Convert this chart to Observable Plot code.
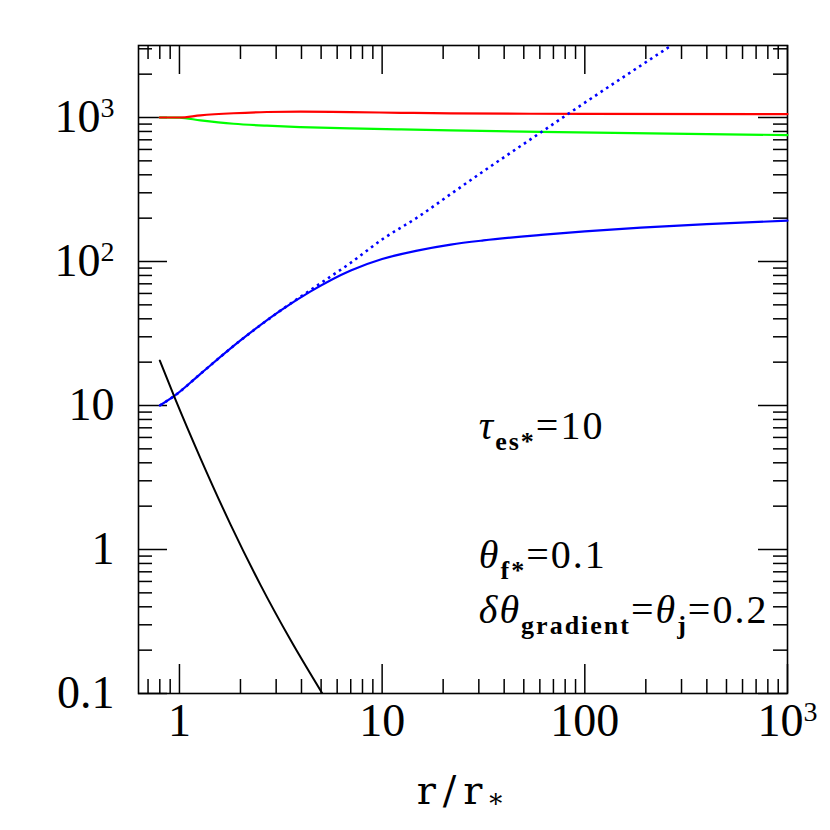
<!DOCTYPE html>
<html><head><meta charset="utf-8">
<script src="https://cdn.jsdelivr.net/npm/d3@7"></script>
<script src="https://cdn.jsdelivr.net/npm/@observablehq/plot@0.6"></script>
<style>body{margin:0;background:#fff}</style>
</head><body><div id="chart"></div>
<script>
// ---- data ----
const rRed   = [0.8, 1.0, 1.27, 1.85, 2.7, 3.96, 7, 12.4, 21.8, 100, 1000];
const vRed   = [1000, 1000, 1035, 1070, 1092, 1098, 1090, 1078, 1068, 1060, 1056];
const rGreen = [0.8, 1.0, 1.27, 1.85, 2.7, 3.96, 7, 12.4, 21.8, 60.6, 211, 1000];
const vGreen = [1000, 997, 955, 905, 877, 858, 840, 826, 814, 795, 775, 755];
const rBlue  = [0.8, 0.955, 1.27, 2.0, 3.15, 4.44, 7.0, 10, 14.9, 21.8, 31.6, 60.8, 100, 189, 400, 1000];
const vBlue  = [10, 11.8, 16.6, 28.3, 45.6, 62, 86.6, 104, 119, 131, 140, 153, 162, 172, 182, 192];
const rDot   = [0.8, 0.955, 1.27, 2.0, 3.15, 4.44, 7.0, 10.2, 14.9, 21.8, 31.9, 60.6, 82.4, 267];
const vDot   = [10, 11.8, 16.6, 28.3, 45.6, 63.5, 98, 145, 202, 294, 427, 787, 1055, 3162];
const rBlack = [0.8, 0.955, 1.27, 1.79, 2.51, 3.54, 5.07];
const vBlack = [20.5, 11.03, 4.30, 1.484, 0.568, 0.234, 0.1];

const xMajor = [1, 10, 100, 1000];
const xMajorLabels = ["1", "10", "100", "10^{3}"];
const xMinor = [0.7, 0.8, 0.9, 2, 3, 4, 5, 6, 7, 8, 9, 20, 30, 40, 50, 60, 70, 80, 90, 200, 300, 400, 500, 600, 700, 800, 900];
const yMajor = [0.1, 1, 10, 100, 1000];
const yMajorLabels = ["0.1", "1", "10", "10^{2}", "10^{3}"];
const yMinor = [0.2, 0.3, 0.4, 0.5, 0.6, 0.7, 0.8, 0.9, 2, 3, 4, 5, 6, 7, 8, 9, 20, 30, 40, 50, 60, 70, 80, 90, 200, 300, 400, 500, 600, 700, 800, 900, 2000, 3000];

const annotX = [30, 30, 30];
const annotY = [7.15, 0.908, 0.377];
const annotText = ["τ_{es*}=10", "θ_{f*}=0.1", "δθ_{gradient}=θ_{j}=0.2"];
const xLabel = "r/r_{*}";

// ---- layout ----
const W = 830, H = 830, mL = 138, mR = 43, mT = 45, mB = 137;
const innerW = W - mL - mR, innerH = H - mT - mB;
const major = 29, minor = 14;
const ser = (rs, vs) => rs.map((r, i) => ({r, v: vs[i]}));
const tickStyle = {stroke: "black", strokeWidth: 1.5};

const svg = Plot.plot({
  width: W, height: H,
  marginLeft: mL, marginRight: mR, marginTop: mT, marginBottom: mB,
  x: {type: "log", domain: [0.628, 1000], axis: null},
  y: {type: "log", domain: [0.1, 3162.3], axis: null},
  style: {background: "white", overflow: "visible"},
  marks: [
    // inward ticks on all four sides
    Plot.tickX(xMinor, {x: d => d, insetTop: innerH - minor, ...tickStyle}),
    Plot.tickX(xMajor, {x: d => d, insetTop: innerH - major, ...tickStyle}),
    Plot.tickX(xMinor, {x: d => d, insetBottom: innerH - minor, ...tickStyle}),
    Plot.tickX(xMajor, {x: d => d, insetBottom: innerH - major, ...tickStyle}),
    Plot.tickY(yMinor, {y: d => d, insetRight: innerW - minor, ...tickStyle}),
    Plot.tickY(yMajor, {y: d => d, insetRight: innerW - major, ...tickStyle}),
    Plot.tickY(yMinor, {y: d => d, insetLeft: innerW - minor, ...tickStyle}),
    Plot.tickY(yMajor, {y: d => d, insetLeft: innerW - major, ...tickStyle}),
    Plot.frame({stroke: "black", strokeWidth: 1.6}),
    // curves
    Plot.line(ser(rGreen, vGreen), {x: "r", y: "v", stroke: "#00ff00", strokeWidth: 2.2, curve: "monotone-x"}),
    Plot.line(ser(rRed, vRed), {x: "r", y: "v", stroke: "#ff0000", strokeWidth: 2.2, curve: "monotone-x"}),
    Plot.line(ser(rDot, vDot), {x: "r", y: "v", stroke: "#0000ff", strokeWidth: 2.6, strokeDasharray: "2.6,4", strokeLinecap: "butt", curve: "monotone-x", clip: true}),
    Plot.line(ser(rBlue, vBlue), {x: "r", y: "v", stroke: "#0000ff", strokeWidth: 2.2, curve: "monotone-x"}),
    Plot.line(ser(rBlack, vBlack), {x: "r", y: "v", stroke: "black", strokeWidth: 2, curve: "monotone-x", clip: true}),
    // tick labels
    Plot.text(xMajor, {x: d => d, text: (d, i) => xMajorLabels[i], frameAnchor: "bottom", dy: 42,
      fontSize: 46, fontFamily: "Liberation Serif", fill: "black"}),
    Plot.text(yMajor, {y: d => d, text: (d, i) => yMajorLabels[i], frameAnchor: "left", dx: -24, textAnchor: "end",
      fontSize: 46, fontFamily: "Liberation Serif", fill: "black"}),
    // axis label
    Plot.text([xLabel], {text: d => d, frameAnchor: "bottom", dy: 110, fontSize: 40, fontFamily: "DejaVu Serif", fill: "black"}),
    // annotations
    Plot.text(annotText, {x: (d, i) => annotX[i], y: (d, i) => annotY[i], text: d => d, textAnchor: "start",
      fontSize: 40, fontFamily: "Liberation Serif", fill: "black"})
  ]
});
document.getElementById("chart").appendChild(svg);

// ---- rich text: _{..} subscripts, ^{..} superscripts, italic Greek ----
function richify(node, str, o) {
  const sel = d3.select(node);
  sel.text(null);
  const re = /_\{([^}]*)\}|\^\{([^}]*)\}|([\u0370-\u03FF])|([^_^\u0370-\u03FF]+)/g;
  let m, shift = 0;
  while ((m = re.exec(str))) {
    const ts = sel.append("tspan");
    let target = 0;
    if (m[1] !== undefined) { target = o.sub; ts.text(m[1]).attr("font-size", o.subSize).attr("font-weight", o.subWeight || "normal"); }
    else if (m[2] !== undefined) { target = -o.sup; ts.text(m[2]).attr("font-size", o.supSize); }
    else if (m[3]) { ts.text(m[3]).attr("font-style", "italic"); }
    else ts.text(m[4]);
    if (target !== shift) { ts.attr("dy", target - shift); shift = target; }
  }
}
d3.select(svg).selectAll("text").each(function () {
  const t = this.textContent;
  if (annotText.includes(t)) {
    this.style.letterSpacing = "2px";
    richify(this, t, {sub: 11, subSize: 26, subWeight: "bold"});
  } else if (t === xLabel) {
    this.style.letterSpacing = "7px";
    richify(this, t, {sub: 9, subSize: 26});
  } else if (t.includes("^")) {
    richify(this, t, {sup: 15, supSize: 28});
  }
});
</script>
</body></html>
